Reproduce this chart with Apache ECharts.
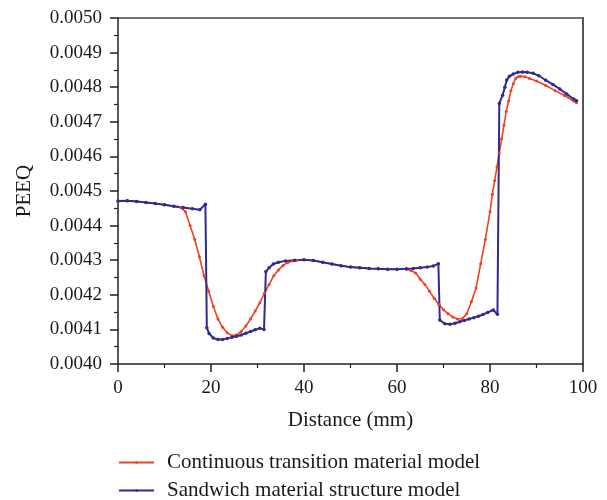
<!DOCTYPE html>
<html>
<head>
<meta charset="utf-8">
<script src="https://cdn.jsdelivr.net/npm/echarts@6/dist/echarts.min.js"></script>
<style>html,body{margin:0;padding:0;background:#fff}#c{width:607px;height:500px}</style>
</head>
<body>
<div id="c"></div>
<script>
var seriesNames = ['Continuous transition material model', 'Sandwich material structure model'];
var xTicks = [0, 20, 40, 60, 80, 100];
var yTicks = ['0.0040','0.0041','0.0042','0.0043','0.0044','0.0045','0.0046','0.0047','0.0048','0.0049','0.0050'];

var contX = [0,2,4,6,8,10,12,13.5,14.5,15.5,16.5,17.5,18.5,19.5,20.5,21.5,22.5,23.5,24.5,25.5,26.5,27.5,28.5,29.5,30.5,31.5,32.5,33.5,34.5,35.5,36.5,37.5,38.5,40,42,44,46,48,50,52,54,56,58,60,62,63,64,65,66,67,68,69,70,71,72,73,74,75,76,77,78,79,80,80.5,81,81.5,82,82.5,83,83.5,84,84.5,85,85.5,86,86.5,87.5,88.5,90,92,94,96,98,98.6];
var contY = [0.004470,0.004472,0.004470,0.004467,0.004464,0.004460,0.004456,0.004452,0.004440,0.004400,0.004360,0.004310,0.004255,0.004210,0.004166,0.004130,0.004106,0.004090,0.004082,0.004084,0.004094,0.004110,0.004130,0.004153,0.004177,0.004205,0.004230,0.004255,0.004272,0.004285,0.004293,0.004298,0.004300,0.004301,0.004299,0.004294,0.004289,0.004284,0.004280,0.004278,0.004276,0.004275,0.004274,0.004274,0.004274,0.004270,0.004263,0.004245,0.004230,0.004210,0.004190,0.004172,0.004157,0.004145,0.004136,0.004130,0.004131,0.004145,0.004180,0.004220,0.004290,0.004360,0.004440,0.004490,0.004530,0.004570,0.004610,0.004650,0.004690,0.004730,0.004760,0.004790,0.004810,0.004825,0.004830,0.004832,0.004830,0.004825,0.004818,0.004805,0.004790,0.004776,0.004760,0.004755];

var sandX = [0,2,4,6,8,10,12,14,16,17.6,18.8,19.1,19.6,20.5,21.5,22.5,23.5,24.5,25.5,26.5,27.5,28.5,29.5,30.5,31.4,31.8,32.5,33.4,34.5,36,38,40,42,44,46,48,50,52,54,56,58,60,62,63.5,65,66.5,67.8,68.9,69.2,70.3,71.4,72.5,73.5,74.5,75.5,76.5,77.5,78.5,79.5,80.7,81.6,82.0,82.7,83.2,83.6,84.2,85,86,87,88,89.3,90.5,92,93.5,95,96.5,98,98.6];
var sandY = [0.004471,0.004472,0.004470,0.004467,0.004464,0.004460,0.004456,0.004452,0.004449,0.004446,0.004462,0.004105,0.004088,0.004075,0.004071,0.004071,0.004074,0.004077,0.004080,0.004084,0.004089,0.004094,0.004099,0.004103,0.004100,0.004267,0.004278,0.004289,0.004294,0.004298,0.004300,0.004301,0.004299,0.004294,0.004289,0.004284,0.004280,0.004278,0.004276,0.004275,0.004274,0.004274,0.004275,0.004276,0.004278,0.004280,0.004283,0.004290,0.004127,0.004116,0.004115,0.004118,0.004122,0.004126,0.004130,0.004134,0.004138,0.004143,0.004149,0.004156,0.004144,0.004753,0.004777,0.004800,0.004821,0.004832,0.004838,0.004843,0.004844,0.004843,0.004840,0.004833,0.004820,0.004808,0.004795,0.004780,0.004766,0.004761];

function pairs(xs, ys){ return xs.map(function(x,i){ return [x, ys[i]]; }); }

var font = 'Liberation Serif';
var txt = '#1a1a1a';
function legendFor(name, top){
  return {
    left:113, top:top, itemWidth:35, itemHeight:3, padding:5,
    textStyle:{fontFamily:font, fontSize:21, color:txt, padding:[0,0,0,8]},
    data:[name]
  };
}
var chart = echarts.init(document.getElementById('c'), null, {renderer:'canvas'});
chart.setOption({
  animation: false,
  backgroundColor: '#fff',
  grid: {left:118, right:24, top:18, bottom:136, show:false},
  legend: [legendFor(seriesNames[0], 447), legendFor(seriesNames[1], 475)],
  xAxis: [{
    type:'value', min:xTicks[0], max:xTicks[xTicks.length-1], interval:20,
    name:'Distance (mm)', nameLocation:'middle', nameGap:46,
    nameTextStyle:{fontFamily:font, fontSize:21, color:txt},
    axisLine:{show:true, lineStyle:{color:'#222', width:1.5}},
    axisTick:{show:true, length:8, inside:false, lineStyle:{color:'#222', width:1.5}},
    minorTick:{show:true, splitNumber:2, length:4, lineStyle:{color:'#222', width:1.2}},
    axisLabel:{fontFamily:font, fontSize:19, color:txt, margin:15,
      formatter:function(v){ return xTicks.indexOf(v)>=0 ? String(v) : ''; }},
    splitLine:{show:false}
  },{
    type:'value', position:'top', min:0, max:100,
    axisLine:{show:true, onZero:false, lineStyle:{color:'#444', width:1.5}},
    axisTick:{show:false}, axisLabel:{show:false}, splitLine:{show:false}
  }],
  yAxis: [{
    type:'value', min:0.004, max:0.005, interval:0.0001,
    name:'PEEQ', nameLocation:'middle', nameGap:83,
    nameTextStyle:{fontFamily:font, fontSize:21, color:txt},
    axisLine:{show:true, lineStyle:{color:'#222', width:1.5}},
    axisTick:{show:true, length:8, inside:false, lineStyle:{color:'#222', width:1.5}},
    minorTick:{show:true, splitNumber:2, length:4, lineStyle:{color:'#222', width:1.2}},
    axisLabel:{fontFamily:font, fontSize:19, color:txt, margin:16,
      formatter:function(v){ var s = v.toFixed(4); return yTicks.indexOf(s)>=0 ? s : ''; }},
    splitLine:{show:false}
  },{
    type:'value', position:'right', min:0.004, max:0.005,
    axisLine:{show:true, onZero:false, lineStyle:{color:'#555', width:2}},
    axisTick:{show:false}, axisLabel:{show:false}, splitLine:{show:false}
  }],
  series: [{
    name: seriesNames[0], type:'line', data: pairs(contX, contY),
    symbol:'circle', symbolSize:3, showAllSymbol:true,
    itemStyle:{color:'#f0401f'}, lineStyle:{color:'#f0401f', width:1.6}
  },{
    name: seriesNames[1], type:'line', data: pairs(sandX, sandY),
    symbol:'circle', symbolSize:3.5, showAllSymbol:true,
    itemStyle:{color:'#2f2b8f'}, lineStyle:{color:'#2f2b8f', width:2}
  }]
});
</script>
</body>
</html>
